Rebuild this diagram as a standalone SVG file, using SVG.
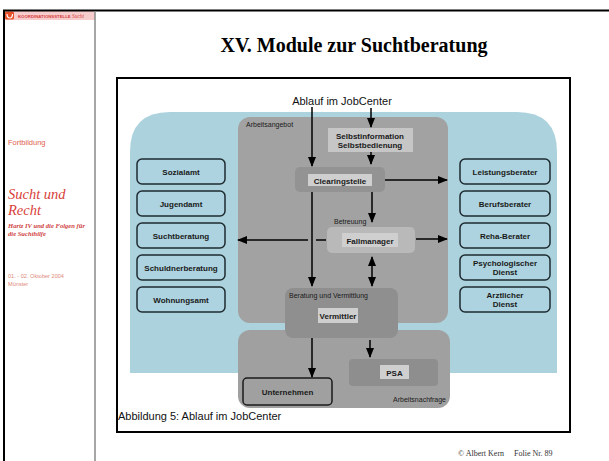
<svg xmlns="http://www.w3.org/2000/svg" width="609" height="461" viewBox="0 0 609 461">
<style>
.bx{fill:#acd3df;stroke:#1f2b30;stroke-width:1.5}
.bt{font-family:"Liberation Sans",Arial,sans-serif;font-weight:bold;font-size:8px;fill:#1a1a1a;text-anchor:middle}
.sm{font-family:"Liberation Sans",Arial,sans-serif;font-size:7px;fill:#1a1a1a}
.lbl{fill:#cfcfcf}
.ln{stroke:#000;stroke-width:1.5;fill:none}
</style>
<defs>
<marker id="ah" markerWidth="10" markerHeight="8" refX="9" refY="4" orient="auto-start-reverse" markerUnits="userSpaceOnUse"><path d="M0,0 L10,4 L0,8 z" fill="#000"/></marker>
</defs>
<rect width="609" height="461" fill="#fff"/>
<g id="page">
<rect x="4" y="11" width="91" height="9" fill="#f6cccc"/>
<rect x="5" y="11.5" width="9" height="8" rx="1.5" fill="#e8502a"/>
<path d="M7,14 Q7,18 10,18 Q12.5,18 12.5,14" fill="none" stroke="#fff" stroke-width="1.2"/>
<text x="18" y="17.5" font-family="Liberation Sans,Arial,sans-serif" font-weight="bold" font-size="4.3" fill="#d84040">KOORDINATIONSSTELLE <tspan font-family="Liberation Serif,serif" font-style="italic" font-weight="normal" font-size="5.5">Sucht</tspan></text>
<line x1="3" y1="10.5" x2="609" y2="10.5" stroke="#000" stroke-width="2"/>
<line x1="4" y1="10" x2="4" y2="461" stroke="#000" stroke-width="2"/>
<line x1="95" y1="11" x2="95" y2="461" stroke="#888" stroke-width="1.5"/>
</g>
<g id="sidebar">
<text x="8" y="145" font-family="Liberation Sans,Arial,sans-serif" font-size="7.5" fill="#e0604e">Fortbildung</text>
<text x="8" y="198.5" font-family="Liberation Serif,serif" font-style="italic" font-size="14.5" fill="#d8403a">Sucht und</text>
<text x="8" y="214.5" font-family="Liberation Serif,serif" font-style="italic" font-size="14.5" fill="#d8403a">Recht</text>
<text x="8" y="228" font-family="Liberation Serif,serif" font-style="italic" font-weight="bold" font-size="6.6" fill="#d04444">Hartz IV und die Folgen für</text>
<text x="8" y="235.5" font-family="Liberation Serif,serif" font-style="italic" font-weight="bold" font-size="6.6" fill="#d04444">die Suchthilfe</text>
<text x="8" y="278" font-family="Liberation Sans,Arial,sans-serif" font-size="5.6" fill="#e08a7a">01. - 02. Oktober 2004</text>
<text x="8" y="285.8" font-family="Liberation Sans,Arial,sans-serif" font-size="5.6" fill="#e08a7a">Münster</text>
</g>
<text id="title" x="354" y="52" text-anchor="middle" font-family="Liberation Serif,serif" font-weight="bold" font-size="20" fill="#000">XV. Module zur Suchtberatung</text>
<g id="footer" font-family="Liberation Serif,serif" font-size="8" fill="#333">
<text x="458" y="456">© Albert Kern</text>
<text x="514" y="456">Folie Nr. 89</text>
</g>
<rect x="117" y="78" width="453" height="354" fill="#fff" stroke="#000" stroke-width="2"/>
<g id="regions">
<path d="M170,112 H517 Q557,112 557,152 V373 H130 V152 Q130,112 170,112 z" fill="#acd2de"/>
<rect id="arbeitsangebot" x="238" y="117" width="210" height="206" rx="12" fill="#a2a2a2"/>
<text class="sm" x="246" y="127">Arbeitsangebot</text>
<rect id="arbeitsnachfrage" x="238" y="330" width="212" height="78" rx="12" fill="#a0a0a0"/>
<text class="sm" x="446" y="402" text-anchor="end">Arbeitsnachfrage</text>
</g>
<text x="342" y="105" text-anchor="middle" font-family="Liberation Sans,Arial,sans-serif" font-size="11" fill="#111">Ablauf im JobCenter</text>
<g id="selbst">
<rect x="328" y="128" width="85" height="24" fill="#c6c6c6"/>
<text class="bt" x="370" y="138.5">Selbstinformation</text>
<text class="bt" x="370" y="147.5">Selbstbedienung</text>
</g>
<g id="clearingstelle">
<rect x="295" y="167" width="90" height="25" rx="5" fill="#939393"/>
<rect class="lbl" x="308" y="174" width="64" height="12"/>
<text class="bt" x="340" y="183.5">Clearingstelle</text>
</g>
<g id="fallmanager">
<text class="sm" x="334" y="224">Betreuung</text>
<rect x="327" y="227" width="88" height="26" rx="5" fill="#b9b9b9"/>
<rect class="lbl" x="342" y="233" width="56" height="14"/>
<text class="bt" x="370" y="243.5">Fallmanager</text>
</g>
<g id="vermittler">
<rect x="285" y="288" width="113" height="50" rx="8" fill="#8f8f8f"/>
<text class="sm" x="289" y="298">Beratung und Vermittlung</text>
<rect class="lbl" x="318" y="308" width="40" height="15"/>
<text class="bt" x="338" y="318.5">Vermittler</text>
</g>
<g id="unternehmen">
<rect x="243" y="378" width="89" height="27" rx="4" fill="#a0a0a0" stroke="#1a1a1a" stroke-width="1.5"/>
<text class="bt" x="287.5" y="394.5">Unternehmen</text>
</g>
<g id="psa">
<rect x="349" y="359" width="89" height="27" rx="4" fill="#8e8e8e"/>
<rect class="lbl" x="380" y="365" width="29" height="14"/>
<text class="bt" x="394.5" y="375.5">PSA</text>
</g>
<g id="left-boxes">
<g id="sozialamt"><rect class="bx" x="137" y="159" width="88" height="25" rx="5"/><text class="bt" x="181" y="174.5">Sozialamt</text></g>
<g id="jugendamt"><rect class="bx" x="137" y="191" width="88" height="25" rx="5"/><text class="bt" x="181" y="206.5">Jugendamt</text></g>
<g id="suchtberatung"><rect class="bx" x="137" y="223" width="88" height="25" rx="5"/><text class="bt" x="181" y="238.5">Suchtberatung</text></g>
<g id="schuldnerberatung"><rect class="bx" x="137" y="255" width="88" height="25" rx="5"/><text class="bt" x="181" y="270.5">Schuldnerberatung</text></g>
<g id="wohnungsamt"><rect class="bx" x="137" y="287" width="88" height="25" rx="5"/><text class="bt" x="181" y="302.5">Wohnungsamt</text></g>
</g>
<g id="right-boxes">
<g id="leistungsberater"><rect class="bx" x="460" y="159" width="90" height="25" rx="5"/><text class="bt" x="505" y="174.5">Leistungsberater</text></g>
<g id="berufsberater"><rect class="bx" x="460" y="191" width="90" height="25" rx="5"/><text class="bt" x="505" y="206.5">Berufsberater</text></g>
<g id="reha-berater"><rect class="bx" x="460" y="223" width="90" height="25" rx="5"/><text class="bt" x="505" y="238.5">Reha-Berater</text></g>
<g id="psychologischer-dienst"><rect class="bx" x="460" y="255" width="90" height="25" rx="5"/><text class="bt" x="505" y="265.5">Psychologischer</text><text class="bt" x="505" y="275">Dienst</text></g>
<g id="aerztlicher-dienst"><rect class="bx" x="460" y="287" width="90" height="25" rx="5"/><text class="bt" x="505" y="297.5">Arztlicher</text><text class="bt" x="505" y="307">Dienst</text></g>
</g>
<g id="connectors">
<line class="ln" x1="371" y1="108" x2="371" y2="127" marker-end="url(#ah)"/>
<line class="ln" x1="371" y1="152" x2="371" y2="164" marker-end="url(#ah)"/>
<line class="ln" x1="312" y1="107" x2="312" y2="166" marker-end="url(#ah)"/>
<line class="ln" x1="312" y1="192" x2="312" y2="286" marker-end="url(#ah)"/>
<line class="ln" x1="385" y1="180" x2="447" y2="180" marker-end="url(#ah)"/>
<line class="ln" x1="372" y1="192" x2="372" y2="222" marker-end="url(#ah)"/>
<line class="ln" x1="326" y1="240" x2="316" y2="240"/>
<line class="ln" x1="308" y1="240" x2="238" y2="240" marker-end="url(#ah)"/>
<line class="ln" x1="416" y1="239" x2="447" y2="239" marker-end="url(#ah)"/>
<line class="ln" x1="372" y1="257" x2="372" y2="286" marker-start="url(#ah)" marker-end="url(#ah)"/>
<line class="ln" x1="312" y1="338" x2="312" y2="377" marker-end="url(#ah)"/>
<line class="ln" x1="370" y1="340" x2="370" y2="357" marker-end="url(#ah)"/>
</g>
<text id="caption" x="118" y="420" font-family="Liberation Sans,Arial,sans-serif" font-size="11" fill="#111">Abbildung 5: Ablauf im JobCenter</text>
</svg>
